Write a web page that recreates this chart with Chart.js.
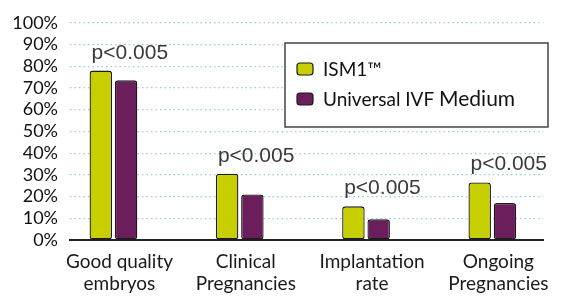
<!DOCTYPE html>
<html>
<head>
<meta charset="utf-8">
<script src="https://cdn.jsdelivr.net/npm/chart.js@4"></script>
<style>
  html, body { margin: 0; padding: 0; background: #ffffff; }
  #c { display: block; }
</style>
</head>
<body>
<canvas id="c" width="582" height="300"></canvas>
<script>
// ---- data ----
const categories = [
  ['Good quality', 'embryos'],
  ['Clinical', 'Pregnancies'],
  ['Implantation', 'rate'],
  ['Ongoing', 'Pregnancies']
];
const seriesNames = ['ISM1\u2122', 'Universal IVF Medium'];
const ism1Values = [78, 30.5, 15.5, 26.5];
const universalValues = [73.5, 21, 9.5, 17];
const pValueLabels = ['p<0.005', 'p<0.005', 'p<0.005', 'p<0.005'];
const yTickValues = [0, 10, 20, 30, 40, 50, 60, 70, 80, 90, 100];

const colors = ['#c8cf00', '#6b1d5c'];
const X_MIN = -0.344, X_MAX = 3.401;

const toPoints = vals => vals.map((v, i) => ({ x: i, y: v }));

const pLabelPlugin = {
  id: 'pLabels',
  afterDatasetsDraw(chart) {
    const ctx = chart.ctx;
    const m0 = chart.getDatasetMeta(0).data;
    const m1 = chart.getDatasetMeta(1).data;
    ctx.save();
    ctx.font = '21px "Liberation Sans", Arial, sans-serif';
    ctx.fillStyle = '#3a3a3a';
    ctx.textAlign = 'left';
    ctx.textBaseline = 'alphabetic';
    pValueLabels.forEach((t, i) => {
      const b = m0[i];
      const top = Math.min(b.y, m1[i].y);
      ctx.fillText(t, b.x - b.width / 2 + 2, top - 12);
    });
    ctx.restore();
  }
};

const boxLegendPlugin = {
  id: 'boxLegend',
  afterDraw(chart) {
    const ctx = chart.ctx;
    ctx.save();
    ctx.fillStyle = '#ffffff';
    ctx.fillRect(285, 43, 263, 84);
    ctx.strokeStyle = '#444444';
    ctx.lineWidth = 1.5;
    ctx.strokeRect(285, 43, 263, 84);
    const rows = [69, 99];
    chart.data.datasets.forEach((ds, i) => {
      const cy = rows[i];
      ctx.beginPath();
      ctx.roundRect(297, cy - 6, 16, 12, 3);
      ctx.fillStyle = ds.backgroundColor;
      ctx.fill();
      ctx.lineWidth = 1.2;
      ctx.strokeStyle = '#1a1a1a';
      ctx.stroke();
      ctx.fillStyle = '#111111';
      ctx.textBaseline = 'middle';
      ctx.textAlign = 'left';
      const label = ds.label;
      if (label.endsWith('Medium')) {
        const head = label.slice(0, label.length - 'Medium'.length);
        ctx.font = '19px Lato, sans-serif';
        ctx.fillText(head, 323, cy + 1);
        const w = ctx.measureText(head).width;
        ctx.font = '21px Lato, sans-serif';
        ctx.fillText('Medium', 323 + w, cy);
      } else {
        ctx.font = '19px Lato, sans-serif';
        ctx.fillText(label, 323, cy + 1);
      }
    });
    ctx.restore();
  }
};

new Chart(document.getElementById('c'), {
  type: 'bar',
  data: {
    datasets: [
      {
        label: seriesNames[0],
        data: toPoints(ism1Values),
        backgroundColor: colors[0],
        borderColor: '#1a1a1a',
        borderWidth: 1.3,
        borderRadius: 3,
        borderSkipped: false,
        categoryPercentage: 0.40,
        barPercentage: 0.89
      },
      {
        label: seriesNames[1],
        data: toPoints(universalValues),
        backgroundColor: colors[1],
        borderColor: '#1a1a1a',
        borderWidth: 1.3,
        borderRadius: 3,
        borderSkipped: false,
        categoryPercentage: 0.40,
        barPercentage: 0.89
      }
    ]
  },
  options: {
    responsive: false,
    animation: false,
    layout: { padding: { left: 0, right: 39, top: 11, bottom: 0 } },
    plugins: {
      legend: { display: false },
      tooltip: { enabled: false }
    },
    scales: {
      x: {
        type: 'linear',
        offset: false,
        bounds: 'data',
        min: X_MIN,
        max: X_MAX,
        afterBuildTicks(scale) {
          scale.ticks = categories.map((_, i) => ({ value: i }));
          scale.min = X_MIN;
          scale.max = X_MAX;
        },
        afterFit(scale) { scale.height = 60; },
        grid: { display: false, drawTicks: false, offset: false },
        border: { display: true, color: '#222222', width: 2 },
        ticks: {
          autoSkip: false,
          maxRotation: 0,
          padding: 10,
          labelOffset: 6,
          color: '#1a1a1a',
          font: { family: 'Lato', size: 19, lineHeight: 1.2 },
          callback: v => categories[v]
        }
      },
      y: {
        min: 0,
        max: 100,
        afterBuildTicks(scale) {
          scale.ticks = yTickValues.map(v => ({ value: v }));
        },
        afterFit(scale) { scale.width = 70; },
        grid: { color: '#8fd0e2', lineWidth: 1.2, drawTicks: false },
        border: { display: false, dash: [1.5, 3] },
        ticks: {
          autoSkip: false,
          padding: 12,
          color: '#111111',
          font: { family: 'Lato', size: 18 },
          callback: v => v + '%'
        }
      }
    }
  },
  plugins: [pLabelPlugin, boxLegendPlugin]
});
</script>
</body>
</html>
